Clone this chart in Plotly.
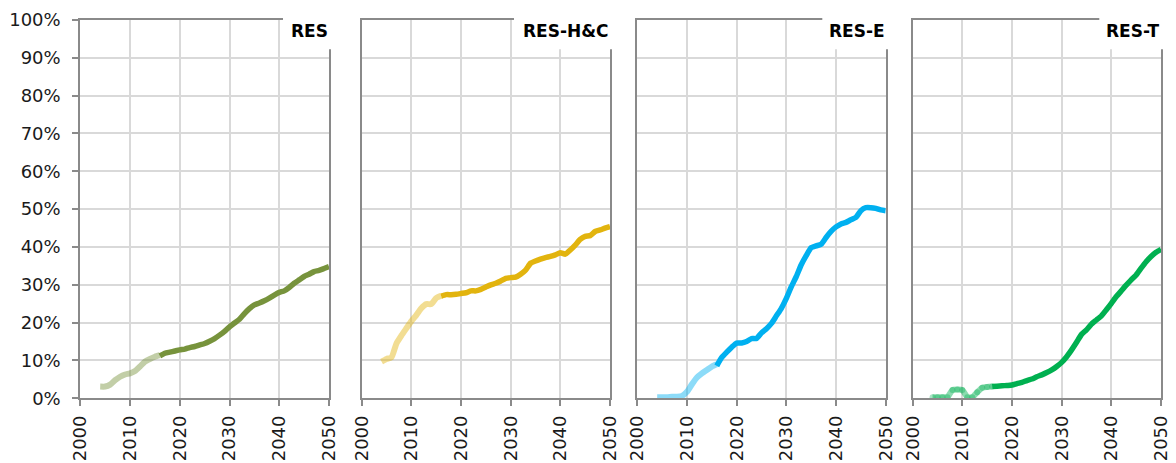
import plotly.graph_objects as go

# the page body has an 8px margin, so the figure is drawn at (8, 8)
OFF = 8
W, H = 1176 - OFF, 463 - OFF

years_hist = list(range(2004, 2017))
years_proj = list(range(2016, 2051))

# RES
res_hist = [3.1, 3.1, 3.6, 4.8, 5.7, 6.3, 6.6, 7.2, 8.4, 9.7, 10.4, 11.0, 11.4]
res_proj = [11.2, 11.9, 12.2, 12.5, 12.8, 13.0, 13.4, 13.7, 14.1, 14.5, 15.1, 15.8, 16.7, 17.7,
            18.9, 19.9, 20.9, 22.4, 23.7, 24.7, 25.2, 25.8, 26.5, 27.3, 28.0, 28.4, 29.3, 30.4,
            31.3, 32.2, 32.8, 33.5, 33.8, 34.3, 34.8]
# RES-H&C
hc_hist = [9.7, 10.4, 10.8, 14.5, 16.6, 18.5, 20.4, 22.0, 23.8, 24.9, 24.9, 26.5, 27.1]
hc_proj = [27.0, 27.4, 27.4, 27.5, 27.7, 27.9, 28.4, 28.4, 28.8, 29.4, 30.0, 30.4, 31.0, 31.7,
           31.9, 32.0, 32.8, 33.9, 35.7, 36.3, 36.8, 37.2, 37.5, 37.9, 38.5, 38.1, 39.2, 40.5,
           42.0, 42.8, 43.0, 44.1, 44.5, 45.0, 45.4]
# RES-E
e_hist = [0.3, 0.3, 0.3, 0.4, 0.4, 0.6, 1.7, 3.7, 5.5, 6.6, 7.5, 8.4, 9.0]
e_proj = [8.6, 10.8, 12.2, 13.5, 14.6, 14.6, 15.0, 15.8, 15.8, 17.3, 18.4, 19.8, 21.8, 23.8,
          26.4, 29.5, 32.2, 35.3, 37.7, 39.8, 40.3, 40.7, 42.5, 44.1, 45.3, 46.1, 46.5, 47.2,
          47.8, 49.6, 50.4, 50.4, 50.2, 49.8, 49.6]
# RES-T
t_hist = [0.3, 0.3, 0.3, 0.3, 2.2, 2.3, 2.2, 0.3, 0.3, 1.6, 2.8, 3.0, 3.1]
t_proj = [3.1, 3.2, 3.3, 3.4, 3.5, 3.9, 4.2, 4.7, 5.1, 5.7, 6.2, 6.8, 7.5, 8.4,
          9.5, 11.0, 12.8, 14.8, 16.9, 18.1, 19.6, 20.7, 21.8, 23.4, 25.1, 26.9, 28.4, 29.9,
          31.3, 32.6, 34.4, 36.1, 37.5, 38.6, 39.4]

titles = ["RES", "RES-H&C", "RES-E", "RES-T"]
hist = [res_hist, hc_hist, e_hist, t_hist]
proj = [res_proj, hc_proj, e_proj, t_proj]
colors = [(119, 147, 60), (226, 180, 14), (0, 176, 240), (0, 176, 80)]
hist_markers = [False, False, False, True]

x_tick_vals = [2000, 2010, 2020, 2030, 2040, 2050]
x_tick_text = ["2000", "2010", "2020", "2030", "2040", "2050"]

# panel pixel geometry (screen pixels)
px_left = [80.3, 361.7, 637.3, 912.7]
px_right = [329.0, 610.0, 885.7, 1161.0]
py_top, py_bot = 20.0, 398.3
box_left = [283.0, 514.0, 822.3, 1099.3]
box_bottom = 49.3


def fx(px):
    return (px - OFF) / W


def fy(py):
    return (H - (py - OFF)) / H


fig = go.Figure()
FONT = "DejaVu Sans"
grid = "#d9d9d9"
axcol = "#8a8a8a"

for i in range(4):
    r, g, b = colors[i]
    xa = "x" if i == 0 else f"x{i+1}"
    ya = "y" if i == 0 else f"y{i+1}"
    light = f"rgba({r},{g},{b},0.45)"
    fig.add_trace(go.Scatter(
        x=years_hist, y=[v / 100 for v in hist[i]], xaxis=xa, yaxis=ya,
        mode="lines+markers" if hist_markers[i] else "lines",
        line=dict(color=light, width=6, shape="spline", smoothing=0.5),
        marker=dict(color=f"rgba({r},{g},{b},0.35)", size=6),
        showlegend=False, hoverinfo="skip"))
    fig.add_trace(go.Scatter(
        x=years_proj, y=[v / 100 for v in proj[i]], xaxis=xa, yaxis=ya,
        mode="lines",
        line=dict(color=f"rgb({r},{g},{b})", width=5.5, shape="spline", smoothing=0.5),
        showlegend=False, hoverinfo="skip"))

    xkey = "xaxis" if i == 0 else f"xaxis{i+1}"
    ykey = "yaxis" if i == 0 else f"yaxis{i+1}"
    fig.layout[xkey] = dict(
        domain=[fx(px_left[i]), fx(px_right[i])], anchor=ya, automargin=False,
        range=[2000, 2050], tickmode="array", tickvals=x_tick_vals, ticktext=x_tick_text,
        tickangle=-90, showgrid=True, gridcolor=grid, gridwidth=1.5,
        showline=True, linecolor=axcol, linewidth=2, mirror=True,
        ticks="outside", ticklen=6, tickcolor=axcol, tickwidth=1.5,
        ticklabelstandoff=2,
        tickfont=dict(family=FONT, size=18, color="#1a1a1a"), zeroline=False)
    fig.layout[ykey] = dict(
        domain=[fy(py_bot), fy(py_top)], anchor=xa, automargin=False,
        range=[0, 1], dtick=0.1, tickformat=".0%",
        showgrid=True, gridcolor=grid, gridwidth=1.5,
        showline=True, linecolor=axcol, linewidth=2, mirror=True,
        ticks="outside" if i == 0 else "", ticklen=6, tickcolor=axcol, tickwidth=1.5,
        showticklabels=(i == 0), ticklabelstandoff=8,
        tickfont=dict(family=FONT, size=18, color="#1a1a1a"), zeroline=False)

    # white title box covering the top-right corner of the frame
    fig.add_shape(type="rect", xref="paper", yref="paper", layer="above",
                  x0=fx(box_left[i]), x1=fx(px_right[i] + 6),
                  y0=fy(box_bottom), y1=fy(12),
                  fillcolor="white", line=dict(width=0))
    fig.add_annotation(xref="paper", yref="paper", x=fx(px_right[i] + 1), y=fy(31),
                       xanchor="right", yanchor="middle", text=f"<b>{titles[i]}</b>",
                       showarrow=False, font=dict(family=FONT, size=17, color="black"))

fig.update_layout(width=W, height=H, margin=dict(l=0, r=0, t=0, b=0),
                  paper_bgcolor="white", plot_bgcolor="white")

fig.write_html("out.html")
